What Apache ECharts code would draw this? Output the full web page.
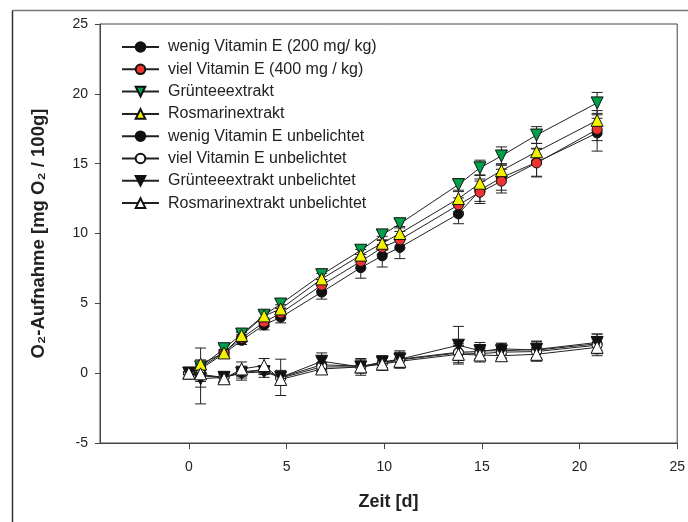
<!DOCTYPE html>
<html>
<head>
<meta charset="utf-8">
<script src="https://cdn.jsdelivr.net/npm/echarts@6/dist/echarts.min.js"></script>
<style>
html,body{margin:0;padding:0;background:#fff;}
#c{width:688px;height:522px;}
</style>
</head>
<body>
<div id="c"></div>
<script>
// ---- data ----
const days = [0, 0.6, 1.8, 2.7, 3.85, 4.7, 6.8, 8.8, 9.9, 10.8, 13.8, 14.9, 16.0, 17.8, 20.9];
const xTicks = [0, 5, 10, 15, 20, 25];
const yTicks = [-5, 0, 5, 10, 15, 20, 25];

const seriesNames = [
  'wenig Vitamin E (200 mg/ kg)',
  'viel Vitamin E (400 mg / kg)',
  'Grünteeextrakt',
  'Rosmarinextrakt',
  'wenig Vitamin E unbelichtet',
  'viel Vitamin E unbelichtet',
  'Grünteeextrakt unbelichtet',
  'Rosmarinextrakt unbelichtet'
];

const wenigE     = [0, 0.3, 1.4, 2.35, 3.45, 4.0, 5.8, 7.55, 8.4, 9.0, 11.4, 13.1, 14.0, 15.1, 17.2];
const vielE      = [0, 0.4, 1.5, 2.5, 3.65, 4.3, 6.3, 8.0, 9.0, 9.55, 12.05, 12.95, 13.75, 15.05, 17.45];
const gruen      = [0, 0.45, 1.75, 2.8, 4.15, 4.95, 7.05, 8.8, 9.9, 10.7, 13.5, 14.7, 15.55, 17.05, 19.35];
const rosmarin   = [0, 0.65, 1.45, 2.7, 4.1, 4.6, 6.75, 8.45, 9.3, 10.0, 12.5, 13.6, 14.5, 15.85, 18.1];
const wenigEU    = [0, -0.2, -0.3, 0.05, 0.2, -0.3, 0.6, 0.5, 0.75, 1.0, 1.5, 1.55, 1.75, 1.65, 2.1];
const vielEU     = [0, -0.1, -0.3, 0.1, 0.25, -0.35, 0.45, 0.45, 0.7, 0.95, 1.45, 1.4, 1.5, 1.55, 2.0];
const gruenU     = [0, -0.4, -0.3, 0.0, 0.1, -0.3, 0.85, 0.45, 0.8, 1.0, 2.0, 1.6, 1.6, 1.7, 2.2];
const rosmarinU  = [0, -0.05, -0.4, 0.3, 0.55, -0.45, 0.3, 0.45, 0.65, 0.85, 1.35, 1.3, 1.25, 1.35, 1.85];

const wenigEErr    = [0.1, 0.3, 0.2, 0.3, 0.35, 0.4, 0.5, 0.75, 0.8, 0.8, 0.7, 0.8, 0.9, 1.0, 1.3];
const vielEErr     = [0.1, 0.3, 0.2, 0.25, 0.3, 0.35, 0.4, 0.5, 0.5, 0.6, 0.5, 0.8, 0.85, 1.0, 0.8];
const gruenErr     = [0.1, 0.2, 0.25, 0.2, 0.3, 0.3, 0.35, 0.3, 0.35, 0.3, 0.4, 0.55, 0.65, 0.6, 0.75];
const rosmarinErr  = [0.1, 0.3, 0.2, 0.2, 0.3, 0.3, 0.4, 0.4, 0.5, 0.5, 0.5, 0.6, 0.5, 0.6, 0.7];
const wenigEUErr   = [0.1, 2.0, 0.3, 0.4, 0.3, 1.3, 0.5, 0.5, 0.5, 0.6, 0.6, 0.5, 0.4, 0.6, 0.7];
const vielEUErr    = [0.1, 0.5, 0.3, 0.3, 0.3, 0.4, 0.3, 0.4, 0.5, 0.5, 0.5, 0.4, 0.5, 0.6, 0.6];
const gruenUErr    = [0.1, 0.6, 0.35, 0.5, 0.4, 0.5, 0.6, 0.6, 0.4, 0.5, 1.35, 0.6, 0.5, 0.6, 0.6];
const rosmarinUErr = [0.1, 0.4, 0.3, 0.5, 0.5, 0.4, 0.3, 0.4, 0.4, 0.5, 0.6, 0.5, 0.3, 0.5, 0.6];

// ---- styles (not data) ----
const FONT = 'Arial, "Liberation Sans", Helvetica, sans-serif';
const styles = [
  {values: wenigE,    err: wenigEErr,    symbol: 'circle',   rotate: 0,   fill: '#111111', size: 10},
  {values: vielE,     err: vielEErr,     symbol: 'circle',   rotate: 0,   fill: '#ee3333', size: 10},
  {values: gruen,     err: gruenErr,     symbol: 'triangle', rotate: 180, fill: '#00a04a', size: 12},
  {values: rosmarin,  err: rosmarinErr,  symbol: 'triangle', rotate: 0,   fill: '#f2f200', size: 12},
  {values: wenigEU,   err: wenigEUErr,   symbol: 'circle',   rotate: 0,   fill: '#111111', size: 10},
  {values: vielEU,    err: vielEUErr,    symbol: 'circle',   rotate: 0,   fill: '#ffffff', size: 10},
  {values: gruenU,    err: gruenUErr,    symbol: 'triangle', rotate: 180, fill: '#111111', size: 12},
  {values: rosmarinU, err: rosmarinUErr, symbol: 'triangle', rotate: 0,   fill: '#ffffff', size: 12}
];

function errRender(params, api) {
  const x = api.value(0), lo = api.value(1), hi = api.value(2);
  const a = api.coord([x, lo]), b = api.coord([x, hi]);
  const hw = 5.5;
  const st = {stroke: '#222', lineWidth: 1};
  return {type: 'group', children: [
    {type: 'line', shape: {x1: a[0], y1: a[1], x2: b[0], y2: b[1]}, style: st},
    {type: 'line', shape: {x1: a[0] - hw, y1: a[1], x2: a[0] + hw, y2: a[1]}, style: st},
    {type: 'line', shape: {x1: b[0] - hw, y1: b[1], x2: b[0] + hw, y2: b[1]}, style: st}
  ]};
}

const series = [];
styles.forEach((s, i) => {
  series.push({
    type: 'custom',
    name: seriesNames[i] + ' err',
    renderItem: errRender,
    encode: {x: 0, y: [1, 2]},
    data: days.map((d, k) => [d, s.values[k] - s.err[k], s.values[k] + s.err[k]]),
    z: 1,
    silent: true
  });
});
styles.forEach((s, i) => {
  series.push({
    type: 'line',
    name: seriesNames[i],
    data: days.map((d, k) => [d, s.values[k]]),
    symbol: s.symbol,
    symbolRotate: s.rotate,
    symbolSize: s.size,
    showAllSymbol: true,
    lineStyle: {color: '#222', width: 1},
    itemStyle: {color: s.fill, borderColor: '#111', borderWidth: 1},
    z: 2 + i * 0.01,
    animation: false
  });
});

const chart = echarts.init(document.getElementById('c'), null, {renderer: 'canvas'});
chart.setOption({
  animation: false,
  backgroundColor: '#fff',
  textStyle: {fontFamily: FONT},
  grid: {left: 100, top: 24, right: 6, bottom: 79, show: true, borderColor: '#444', borderWidth: 1, containLabel: false},
  legend: {
    data: seriesNames,
    orient: 'vertical',
    left: 121,
    top: 39,
    padding: 0,
    itemWidth: 37,
    itemHeight: 12,
    itemGap: 6.3,
    textStyle: {fontSize: 16, color: '#222', fontFamily: FONT, lineHeight: 16, padding: [0, 0, 0, 4]},
    selectedMode: false
  },
  xAxis: {
    type: 'value',
    min: -4.55,
    max: 25,
    name: 'Zeit [d]',
    nameLocation: 'middle',
    nameGap: 50,
    nameTextStyle: {fontSize: 18, fontWeight: 'bold', color: '#222', fontFamily: FONT},
    axisLine: {onZero: false, lineStyle: {color: '#444', width: 1}},
    axisTick: {show: true, inside: false, length: 6, lineStyle: {color: '#444'}, customValues: xTicks},
    axisLabel: {fontSize: 14, color: '#222', margin: 17, customValues: xTicks, fontFamily: FONT},
    splitLine: {show: false}
  },
  yAxis: {
    type: 'value',
    min: -5,
    max: 25,
    interval: 5,
    name: 'O₂-Aufnahme [mg O₂ / 100g]',
    nameLocation: 'middle',
    nameGap: 52,
    nameTextStyle: {fontSize: 18.5, fontWeight: 'bold', color: '#222', fontFamily: FONT},
    axisLine: {show: true, onZero: false, lineStyle: {color: '#444', width: 1}},
    axisTick: {show: true, inside: false, length: 5, lineStyle: {color: '#444'}},
    axisLabel: {fontSize: 14, color: '#222', margin: 12, fontFamily: FONT},
    splitLine: {show: false}
  },
  graphic: [
    {type: 'line', shape: {x1: 12.5, y1: 10.5, x2: 688, y2: 10.5}, style: {stroke: '#777', lineWidth: 1.5}, z: 100},
    {type: 'line', shape: {x1: 12.5, y1: 10.5, x2: 12.5, y2: 522}, style: {stroke: '#333', lineWidth: 1.5}, z: 100}
  ],
  series: series
});
</script>
</body>
</html>
